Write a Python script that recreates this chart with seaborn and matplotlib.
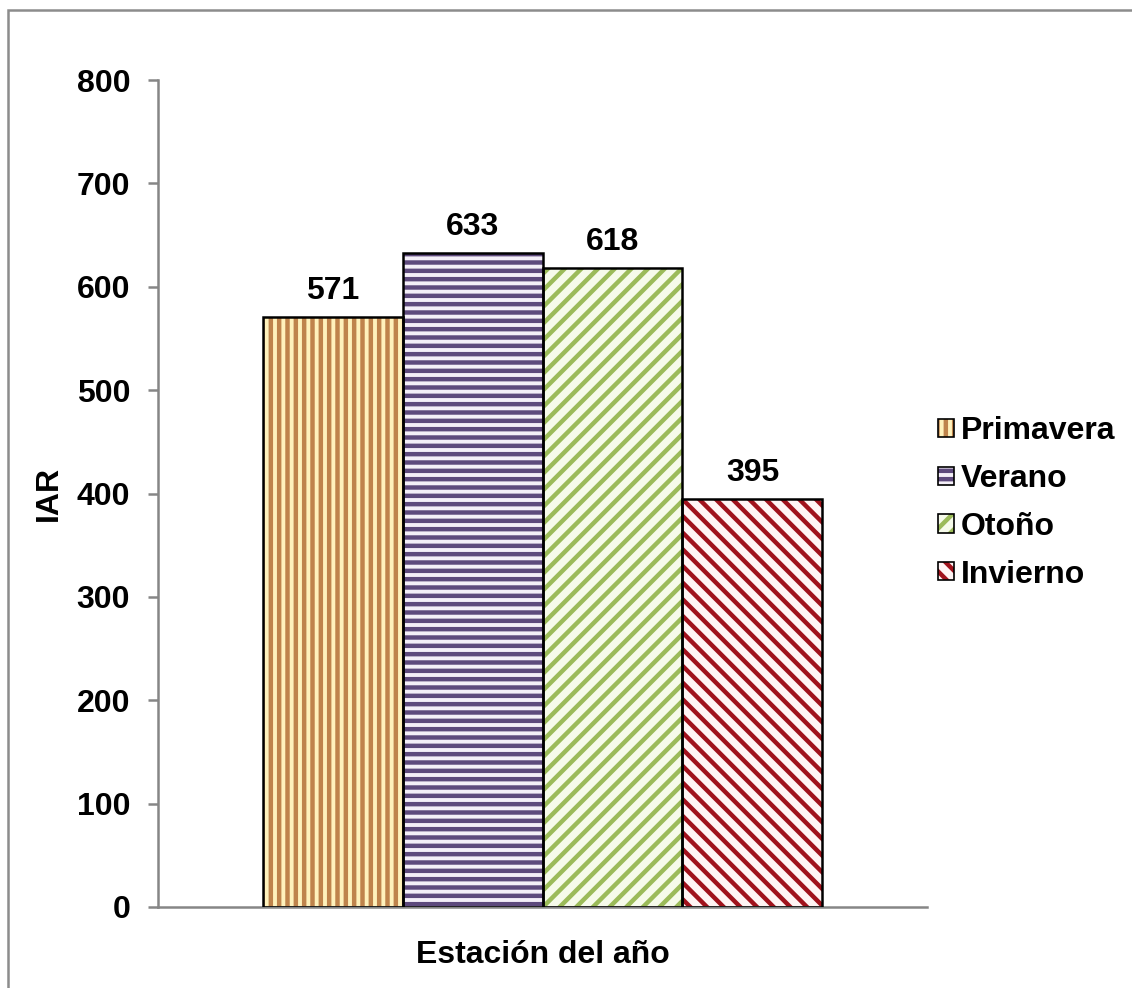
import matplotlib
matplotlib.use("Agg")
import matplotlib.pyplot as plt
from matplotlib.patches import Rectangle, Patch
import seaborn as sns
import pandas as pd

# Data
seasons = ["Primavera", "Verano", "Otoño", "Invierno"]
iar = [571, 633, 618, 395]
group_label = "Estación del año"
y_ticks = [0, 100, 200, 300, 400, 500, 600, 700, 800]

# Styling per season: light background, stripe colour, stripe pattern
face_colors = ["#FFF2BC", "#F4EFF8", "#F6FBEA", "#FFF4F4"]
stripe_colors = ["#BF844C", "#5E4A7D", "#9BBB59", "#A0121C"]
hatches = ["||", "--", "//", "\\\\"]

sns.set_theme(style="white")
plt.rcParams["font.family"] = ["Liberation Sans", "DejaVu Sans"]
plt.rcParams["font.weight"] = "bold"
plt.rcParams["hatch.linewidth"] = 3.2
for key in ["text.color", "axes.labelcolor", "xtick.color", "ytick.color"]:
    plt.rcParams[key] = "black"

FS = 23

df = pd.DataFrame({"grupo": [group_label] * len(seasons),
                   "Estación": seasons,
                   "IAR": iar})

fig = plt.figure(figsize=(11.32, 9.88), dpi=100)
ax = fig.add_axes([0.1396, 0.0820, 0.6793, 0.8370])

sns.barplot(data=df, x="grupo", y="IAR", hue="Estación", hue_order=seasons,
            palette=dict(zip(seasons, face_colors)), saturation=1,
            width=0.728, gap=0, dodge=True, legend=False, ax=ax)

# Striped fill plus a black outline on every bar
for patch, hc, h in zip(ax.patches[:len(seasons)], stripe_colors, hatches):
    patch.set_hatch(h)
    patch.set_edgecolor(hc)
    patch.set_linewidth(0)
    ax.add_patch(Rectangle(patch.get_xy(), patch.get_width(), patch.get_height(),
                           fill=False, edgecolor="black", linewidth=1.8, zorder=3))

for cont in ax.containers:
    ax.bar_label(cont, fmt="%d", padding=8, fontsize=FS, fontweight="bold",
                 color="black")

ax.set_xlim(-0.5, 0.5)
ax.set_ylim(0, 800)
ax.set_yticks(y_ticks)
ax.set_yticklabels([str(t) for t in y_ticks], fontsize=FS, fontweight="bold")
ax.set_xticks([])
ax.set_xlabel(group_label, fontsize=FS, fontweight="bold", labelpad=24,
              color="black")
ax.set_ylabel("IAR", fontsize=FS, fontweight="bold", labelpad=9,
              color="black")

for side in ["top", "right"]:
    ax.spines[side].set_visible(False)
for side in ["left", "bottom"]:
    ax.spines[side].set_color("#868686")
    ax.spines[side].set_linewidth(1.8)
ax.tick_params(axis="y", left=True, length=7, width=1.8, color="#868686",
               pad=13, labelcolor="black")

handles = [(Patch(facecolor=fc, edgecolor=hc, hatch=h, linewidth=0),
            Patch(fill=False, edgecolor="black", linewidth=1.2))
           for fc, hc, h in zip(face_colors, stripe_colors, hatches)]
leg = fig.legend(handles, seasons, loc="center left", bbox_to_anchor=(0.829, 0.491),
                 bbox_transform=fig.transFigure, frameon=False,
                 handlelength=0.5, handleheight=0.5, handletextpad=0.2,
                 labelspacing=0.56, borderpad=0, borderaxespad=0,
                 prop={"weight": "bold", "size": FS})
for t in leg.get_texts():
    t.set_color("black")

# Chart area frame
fig.patches.append(Rectangle((0.007, -0.2), 1.3, 0.19 + 1.0, transform=fig.transFigure,
                             fill=False, edgecolor="#8C8C8C", linewidth=1.8,
                             figure=fig))

fig.savefig("out.png", dpi=100, facecolor="white")
